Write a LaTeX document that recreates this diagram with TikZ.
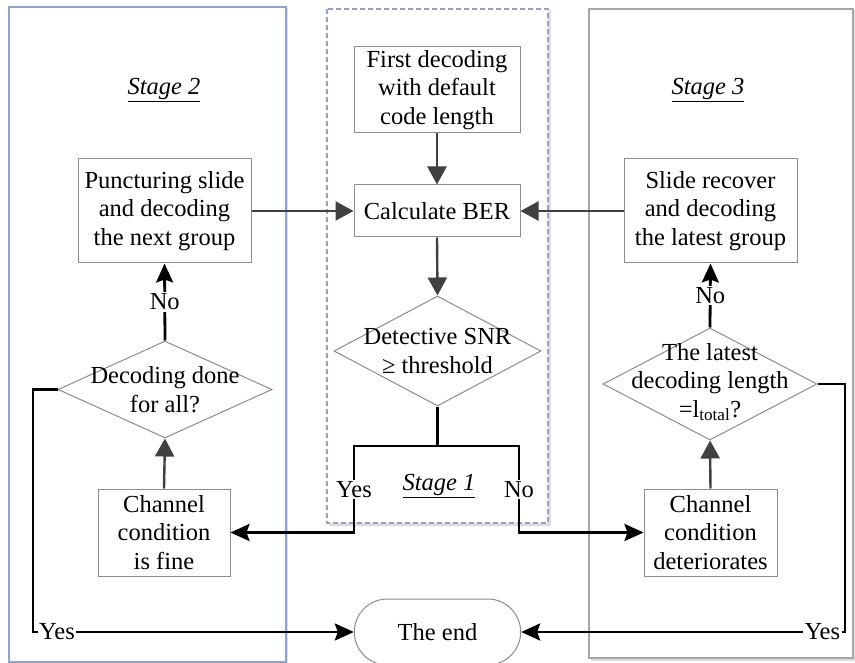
\documentclass[tikz,border=0pt]{standalone}
\usepackage{fontspec}
\setmainfont{Liberation Serif}
\usetikzlibrary{arrows.meta,shapes.geometric,shapes.misc}
\definecolor{boxgray}{HTML}{8C8C8C}
\definecolor{arrgray}{HTML}{404040}
\definecolor{panelblue}{HTML}{8FA5C8}
\definecolor{panelgray}{HTML}{A6A6A6}
\definecolor{shadowgray}{HTML}{DEDEDE}
\begin{document}
\begin{tikzpicture}[x=1pt,y=-1pt,
  font=\fontsize{24.5}{28.5}\selectfont,
  box/.style={draw=boxgray, line width=1pt, inner sep=0pt, align=center, fill=white},
  dia/.style={draw=boxgray, line width=1pt, diamond, inner sep=0pt, fill=white},
  txt/.style={align=center, inner sep=0pt},
  garrow/.style={draw=arrgray, line width=2.4pt, -{Triangle[length=18pt,width=19pt]}},
  barrow/.style={draw=black, line width=2.8pt, -{Stealth[length=19pt,width=17pt,inset=3pt]}},
  lab/.style={fill=white, inner sep=1.5pt},
]
\useasboundingbox (0,0) rectangle (855,663);
% panels with light shadows
\fill[shadowgray] (10.5,8.5) rectangle (288,664);
\draw[panelblue, line width=1.3pt, fill=white] (9,7) rectangle (286,662);
\fill[shadowgray] (328.5,10.5) rectangle (550.5,525.5);
\draw[panelblue, line width=1.2pt, dashed, dash pattern=on 5pt off 3pt, fill=white] (327,9) rectangle (548,523);
\fill[shadowgray] (590.5,10.5) rectangle (856,660.5);
\draw[panelgray, line width=1.3pt, fill=white] (589,9) rectangle (853,658);

% stage labels
\node[txt] (s2) at (164,90) {\underline{\textit{Stage 2}}};
\node[txt] (s3) at (708,90) {\underline{\textit{Stage 3}}};
\node[txt] (s1) at (439,486) {\underline{\textit{Stage 1}}};

% boxes
\node[box, minimum width=166pt, minimum height=86pt] (first) at (437,90) {First decoding\\with default\\code length};
\node[box, minimum width=166pt, minimum height=52pt] (ber) at (437,211) {Calculate BER};
\node[box, minimum width=173pt, minimum height=104pt] (punct) at (164.5,211) {Puncturing slide\\and decoding\\the next group};
\node[box, minimum width=173pt, minimum height=104pt] (slide) at (710.5,211) {Slide recover\\and decoding\\the latest group};
\node[box, minimum width=132pt, minimum height=87pt] (fine) at (164,532.5) {Channel\\condition\\is fine};
\node[box, minimum width=133pt, minimum height=87pt] (det) at (710.5,532.5) {Channel\\condition\\deteriorates};
\node[draw=boxgray, line width=1pt, rounded rectangle, fill=white, minimum width=173pt, minimum height=66pt] (end) at (437.5,632) {The end};

% diamonds
\node[dia, minimum width=207pt, minimum height=110pt] (snr) at (437.5,351) {};
\node[txt] (snrt) at (snr.center) {Detective SNR\\≥ threshold};
\node[dia, minimum width=214pt, minimum height=97pt] (d2) at (165,389.5) {};
\node[txt] (d2t) at (d2.center) {Decoding done\\for all?};
\node[dia, minimum width=214pt, minimum height=112pt] (d3) at (710,384) {};
\node[txt] (d3t) at ([yshift=2pt]d3.center) {The latest\\decoding length\\=l\textsubscript{total}?};

% gray arrows
\draw[garrow] (first.south) -- (ber.north);
\draw[garrow] (ber.south) -- (snr.north);
\draw[garrow] (punct.east) -- (ber.west);
\draw[garrow] (slide.west) -- (ber.east);
\draw[garrow] (fine.north) -- (d2.south);
\draw[garrow] (det.north) -- (d3.south);

% black arrows
\draw[barrow] (d2.north) -- node[lab]{No} (punct.south);
\draw[barrow] (d3.north) -- node[lab]{No} (slide.south);

\coordinate (yl) at (354,446);
\coordinate (nr) at (519,446);
\draw[barrow] (snr.south) |- (yl) -- node[lab]{Yes} (yl |- fine.east) -- (fine.east);
\draw[barrow] (snr.south) |- (nr) -- node[lab]{No} (nr |- det.west) -- (det.west);

\coordinate (lcor) at (33,632);
\coordinate (rcor) at (845,632);
\draw[barrow] (d2.west) -| (lcor) -- node[lab, pos=0.075]{Yes} (end.west);
\draw[barrow] (d3.east) -| (rcor) -- node[lab, pos=0.07]{Yes} (end.east);
\end{tikzpicture}
\end{document}
